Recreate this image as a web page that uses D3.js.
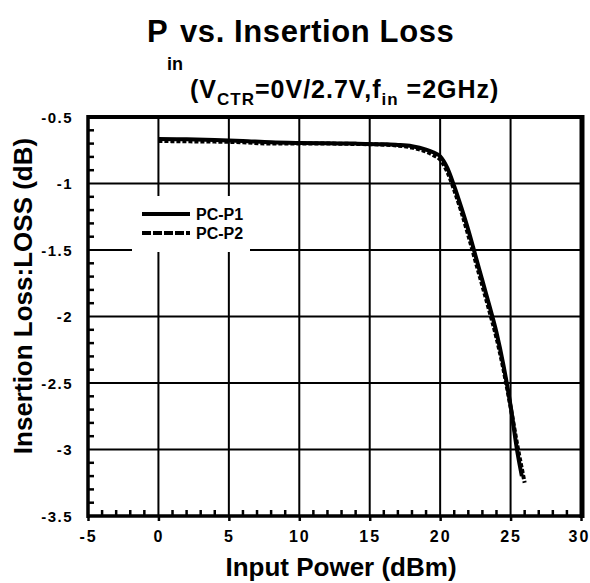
<!doctype html>
<html>
<head>
<meta charset="utf-8">
<title>Pin vs. Insertion Loss</title>
<style>
* {padding:0;margin:0}
body {background:#fff}
text {font-family:"Liberation Sans", Arial, sans-serif; font-weight:bold; fill:#000}
</style>
</head>
<body>
<div id="chart"></div>
<script src="https://d3js.org/d3.v7.min.js"></script>
<script>
	// valeurs
	const xTicks = [-5, 0, 5, 10, 15, 20, 25, 30];
	const yTicks = [-0.5, -1, -1.5, -2, -2.5, -3, -3.5];

	const p1Pin  = [0, 2, 4, 6, 8, 10, 12, 14, 16, 17, 18, 19, 19.5, 20, 20.5, 21, 21.5, 22, 22.5, 23, 23.5, 24, 24.5, 25, 25.5, 25.8];
	const p1Loss = [-0.665, -0.668, -0.672, -0.68, -0.69, -0.695, -0.698, -0.70, -0.705, -0.71, -0.72, -0.745, -0.765, -0.795, -0.88, -1.02, -1.18, -1.35, -1.54, -1.73, -1.92, -2.12, -2.37, -2.67, -3.03, -3.2];

	const p2Pin  = [0, 2, 4, 6, 8, 10, 12, 14, 16, 17, 18, 19, 19.5, 20, 20.5, 21, 21.5, 22, 22.5, 23, 23.5, 24, 24.5, 25, 25.5, 26];
	const p2Loss = [-0.68, -0.683, -0.685, -0.69, -0.70, -0.70, -0.70, -0.703, -0.708, -0.715, -0.73, -0.76, -0.785, -0.82, -0.91, -1.05, -1.21, -1.39, -1.58, -1.77, -1.96, -2.16, -2.40, -2.68, -2.98, -3.25];

	const seriesNames = ["PC-P1", "PC-P2"];

	const W = 590, H = 583;
	const margin = {top: 117, right: 9, bottom: 67, left: 88};
	const width = W - margin.left - margin.right;
	const height = H - margin.top - margin.bottom;

	const x = d3.scaleLinear().domain([-5, 30]).range([0, width]);
	const y = d3.scaleLinear().domain([-3.5, -0.5]).range([height, 0]);

	const svgRoot = d3.select("#chart").append("svg")
		.attr("width", W)
		.attr("height", H);

	// titre
	svgRoot.append("text").attr("x", 147).attr("y", 42).style("font-size", "31px").text("P");
	svgRoot.append("text").attr("x", 167).attr("y", 70).style("font-size", "18px").text("in");
	svgRoot.append("text").attr("x", 180).attr("y", 42).style("font-size", "31px").style("letter-spacing", "0.6px").text("vs. Insertion Loss");

	const t2 = svgRoot.append("text").attr("x", 190).attr("y", 98).style("font-size", "25px").style("letter-spacing", "1px");
	t2.append("tspan").text("(V");
	t2.append("tspan").attr("dy", 7).style("font-size", "17px").text("CTR");
	t2.append("tspan").attr("dy", -7).text("=0V/2.7V,f");
	t2.append("tspan").attr("dy", 7).style("font-size", "17px").text("in");
	t2.append("tspan").attr("dy", -7).text(" =2GHz)");

	const svg = svgRoot.append("g")
		.attr("transform", "translate(" + margin.left + "," + margin.top + ")");

	// grille
	svg.selectAll(".vgrid").data(xTicks.slice(1, -1)).enter()
		.append("line")
		.attr("stroke", "#000").attr("stroke-width", 2)
		.attr("x1", d => x(d)).attr("x2", d => x(d))
		.attr("y1", 0).attr("y2", height);
	svg.selectAll(".hgrid").data(yTicks.slice(1, -1)).enter()
		.append("line")
		.attr("stroke", "#000").attr("stroke-width", 2)
		.attr("x1", 0).attr("x2", width)
		.attr("y1", d => y(d)).attr("y2", d => y(d));

	// petites graduations
	const yMinor = d3.range(-3.4, -0.55, 0.1).map(v => +v.toFixed(1)).filter(v => Math.abs(v * 2 - Math.round(v * 2)) > 0.01);
	svg.selectAll(".ym").data(yMinor).enter()
		.append("line")
		.attr("stroke", "#000").attr("stroke-width", 2.5)
		.attr("x1", 0).attr("x2", 6)
		.attr("y1", d => y(d)).attr("y2", d => y(d));
	const xMinor = d3.range(-4, 30, 1).filter(v => v % 5 !== 0);
	svg.selectAll(".xm").data(xMinor).enter()
		.append("line")
		.attr("stroke", "#000").attr("stroke-width", 2.5)
		.attr("x1", d => x(d)).attr("x2", d => x(d))
		.attr("y1", height).attr("y2", height - 6);

	// axes
	const xAxis = svg.append("g")
		.attr("transform", "translate(0," + height + ")")
		.call(d3.axisBottom(x).tickValues(xTicks).tickSize(5).tickPadding(10).tickFormat(d => String(d)));
	xAxis.select(".domain").remove();
	xAxis.selectAll("line").attr("stroke-width", 2.5);
	xAxis.selectAll("text").style("font-size", "16px").style("letter-spacing", "2px");
	xAxis.selectAll("text").filter(d => d === 30).attr("dx", -2);

	const yAxis = svg.append("g")
		.call(d3.axisLeft(y).tickValues(yTicks).tickSize(0).tickPadding(15).tickFormat(d => String(d)));
	yAxis.select(".domain").remove();
	yAxis.selectAll("text").style("font-size", "15px").style("letter-spacing", "1.5px").attr("dy", "0.35em");

	// courbes
	const line = d3.line()
		.x(d => x(d[0]))
		.y(d => y(d[1]))
		.curve(d3.curveMonotoneX);

	const p2 = p2Pin.map((v, i) => [v, p2Loss[i]]);
	const p1 = p1Pin.map((v, i) => [v, p1Loss[i]]);

	svg.append("path").datum(p2)
		.attr("fill", "none").attr("stroke", "#000").attr("stroke-width", 4)
		.attr("stroke-dasharray", "4,2")
		.attr("d", line);
	svg.append("path").datum(p1)
		.attr("fill", "none").attr("stroke", "#000").attr("stroke-width", 4)
		.attr("d", line);

	// cadre
	svg.append("line").attr("stroke", "#000").attr("stroke-width", 4)
		.attr("x1", -1).attr("x2", width + 3).attr("y1", 0).attr("y2", 0);
	svg.append("line").attr("stroke", "#000").attr("stroke-width", 3.5)
		.attr("x1", -1).attr("x2", width + 3).attr("y1", height).attr("y2", height);
	svg.append("line").attr("stroke", "#000").attr("stroke-width", 3.5)
		.attr("x1", 0).attr("x2", 0).attr("y1", -2).attr("y2", height + 2);
	svg.append("line").attr("stroke", "#000").attr("stroke-width", 5)
		.attr("x1", width + 1).attr("x2", width + 1).attr("y1", -2).attr("y2", height + 2);

	// légende
	const lg = svgRoot.append("g");
	lg.append("rect").attr("x", 132).attr("y", 196).attr("width", 118).attr("height", 56).attr("fill", "#fff");
	seriesNames.forEach(function(name, i) {
		const yy = 214 + i * 19;
		lg.append("line")
			.attr("x1", 142).attr("x2", 190).attr("y1", yy).attr("y2", yy)
			.attr("stroke", "#000").attr("stroke-width", 4)
			.attr("stroke-dasharray", i === 1 ? "9,2" : null);
		lg.append("text").attr("x", 196).attr("y", yy + 6).style("font-size", "16px").text(name);
	});

	// titres des axes
	svgRoot.append("text")
		.attr("x", 341).attr("y", 576)
		.attr("text-anchor", "middle")
		.style("font-size", "26px")
		.text("Input Power (dBm)");
	svgRoot.append("text")
		.attr("transform", "translate(32,296) rotate(-90)")
		.attr("text-anchor", "middle")
		.style("font-size", "26px")
		.text("Insertion Loss:LOSS (dB)");
</script>
</body>
</html>
